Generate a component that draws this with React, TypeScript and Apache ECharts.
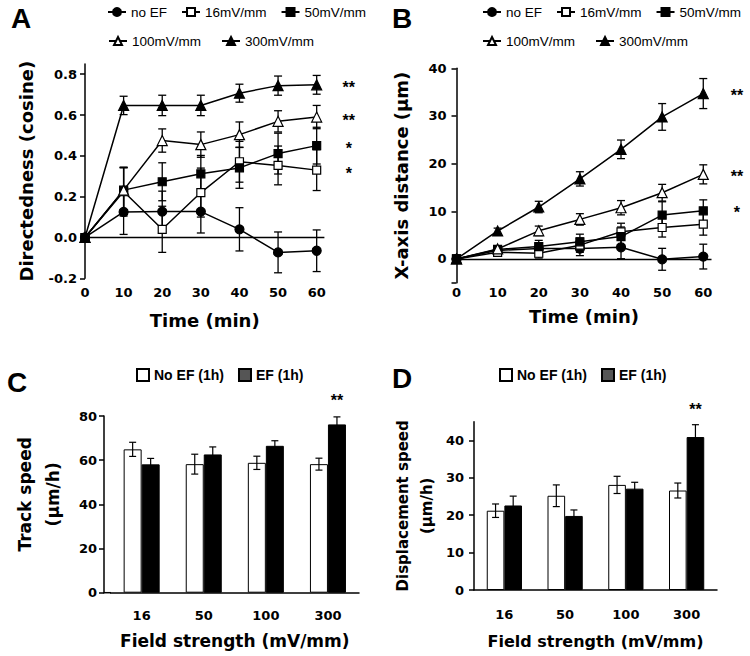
import React, { useEffect, useRef } from 'react';
import * as echarts from 'echarts';

// ---------- data ----------
const times = [0, 10, 20, 30, 40, 50, 60];
const seriesNames = ['no EF', '16mV/mm', '50mV/mm', '100mV/mm', '300mV/mm'];

// Panel A: directedness (cosine)
const dirNoEF = [0, 0.125, 0.127, 0.127, 0.04, -0.073, -0.065];
const dir16 = [0, 0.225, 0.04, 0.22, 0.371, 0.353, 0.33];
const dir50 = [0, 0.232, 0.273, 0.312, 0.341, 0.411, 0.45];
const dir100 = [0, 0.232, 0.475, 0.455, 0.504, 0.569, 0.59];
const dir300 = [0, 0.647, 0.647, 0.647, 0.707, 0.744, 0.748];
const dirNoEFErr = [0, 0.11, 0.1, 0.105, 0.106, 0.1, 0.102];
const dir16Err = [0, 0.12, 0.113, 0.12, 0.1, 0.095, 0.1];
const dir50Err = [0, 0.11, 0.093, 0.09, 0.1, 0.1, 0.09];
const dir100Err = [0, 0.11, 0.057, 0.062, 0.062, 0.052, 0.057];
const dir300Err = [0, 0.045, 0.05, 0.05, 0.044, 0.047, 0.046];
const dirSig = ['', '*', '*', '**', '**'];
const dirTicks = [-0.2, 0, 0.2, 0.4, 0.6, 0.8];

// Panel B: X-axis distance (um)
const distNoEF = [0, 1.8, 2.2, 2.2, 2.45, -0.07, 0.5];
const dist16 = [0, 1.4, 1.2, 2.9, 5.7, 6.6, 7.3];
const dist50 = [0, 2.0, 2.6, 3.6, 4.7, 9.2, 10.1];
const dist100 = [0, 2.1, 5.9, 8.3, 10.75, 13.9, 17.75];
const dist300 = [0, 5.87, 10.9, 16.8, 23.0, 29.8, 34.7];
const distNoEFErr = [0, 0.6, 1.0, 1.5, 2.4, 2.3, 2.6];
const dist16Err = [0, 0.6, 1.0, 1.5, 1.8, 2.0, 2.3];
const dist50Err = [0, 0.6, 1.3, 1.6, 2.0, 2.8, 2.3];
const dist100Err = [0, 0.6, 1.0, 1.2, 1.5, 1.75, 2.0];
const dist300Err = [0, 0.6, 1.2, 1.5, 1.95, 2.8, 3.15];
const distSig = ['', '', '*', '**', '**'];
const distTicks = [-5, 0, 10, 20, 30, 40];
const distLabels = [0, 10, 20, 30, 40];

// Panels C and D
const fieldStrengths = ['16', '50', '100', '300'];
const trackNoEF = [64.9, 58.2, 58.8, 58.2];
const trackEF = [58.1, 62.6, 66.5, 76.2];
const trackNoEFErr = [3.2, 4.5, 3.0, 2.7];
const trackEFErr = [2.7, 3.4, 2.3, 3.4];
const trackSig = ['', '', '', '**'];
const dispNoEF = [21.2, 25.2, 28.1, 26.6];
const dispEF = [22.6, 19.8, 27.1, 40.9];
const dispNoEFErr = [1.8, 2.9, 2.3, 2.0];
const dispEFErr = [2.5, 1.6, 1.7, 3.3];
const dispSig = ['', '', '', '**'];
const trackTicks = [0, 20, 40, 60, 80];
const dispTicks = [0, 10, 20, 30, 40];

// ---------- styling ----------
const DV = '"DejaVu Sans", sans-serif';
const LS = '"Liberation Sans", Arial, sans-serif';
const symbols = ['circle', 'rect', 'rect', 'triangle', 'triangle'];
const filled = [true, false, true, false, true];
const symbolSizes = [9, 8, 8, 10, 10];

const tickFont = { fontFamily: DV, fontWeight: 'bold' as const, fontSize: 13, color: '#000' };
const nameFont = (size: number) => ({
  fontFamily: DV, fontWeight: 'bold' as const, fontSize: size, color: '#000',
});
const richName = (size: number, lh: number, padLeft: number) => ({
  fontFamily: DV, fontWeight: 'bold' as const, fontSize: size, color: '#000',
  padding: [0, 0, 0, padLeft],
  rich: { a: { fontFamily: DV, fontWeight: 'bold' as const, fontSize: size, color: '#000', lineHeight: lh } },
});

const lineErrRender = (cap: number) => (params: any, api: any) => {
  const x = api.value(0);
  const lo = api.value(1);
  const hi = api.value(2);
  if (hi === lo) return null;
  const p1 = api.coord([x, hi]);
  const p2 = api.coord([x, lo]);
  const style = { stroke: '#000', lineWidth: 1.3 };
  return {
    type: 'group',
    children: [
      { type: 'line', shape: { x1: p1[0], y1: p1[1], x2: p2[0], y2: p2[1] }, style },
      { type: 'line', shape: { x1: p1[0] - cap, y1: p1[1], x2: p1[0] + cap, y2: p1[1] }, style },
      { type: 'line', shape: { x1: p2[0] - cap, y1: p2[1], x2: p2[0] + cap, y2: p2[1] }, style },
    ],
  };
};

const barErrRender = (side: number) => (params: any, api: any) => {
  const i = api.value(0);
  const p1 = api.coord([i, api.value(2)]);
  const p2 = api.coord([i, api.value(1)]);
  const band = api.size([1, 0])[0];
  const x = p1[0] + side * band * 0.145;
  const cap = 3.5;
  const style = { stroke: '#000', lineWidth: 1.2 };
  return {
    type: 'group',
    children: [
      { type: 'line', shape: { x1: x, y1: p1[1], x2: x, y2: p2[1] }, style },
      { type: 'line', shape: { x1: x - cap, y1: p1[1], x2: x + cap, y2: p1[1] }, style },
      { type: 'line', shape: { x1: x - cap, y1: p2[1], x2: x + cap, y2: p2[1] }, style },
    ],
  };
};

function linePanel(idx: number, values: number[][], errors: number[][], sigs: string[], sigDx: number, sigDy: number) {
  const out: any[] = [];
  values.forEach((vals, s) => {
    out.push({
      type: 'custom',
      xAxisIndex: idx,
      yAxisIndex: idx,
      z: 1,
      silent: true,
      renderItem: lineErrRender(4),
      data: times.map((t, i) => [t, vals[i] - errors[s][i], vals[i] + errors[s][i]]),
      encode: { x: 0, y: [1, 2] },
    });
  });
  values.forEach((vals, s) => {
    const size = symbolSizes[s];
    out.push({
      type: 'line',
      name: seriesNames[s],
      xAxisIndex: idx,
      yAxisIndex: idx,
      z: 3,
      symbol: symbols[s],
      symbolSize: size,
      showSymbol: true,
      showAllSymbol: true,
      lineStyle: { color: '#000', width: 1.5 },
      itemStyle: { color: filled[s] ? '#000' : '#fff', borderColor: '#000', borderWidth: 1.2 },
      data: times.map((t, i) => {
        if (i === times.length - 1 && sigs[s]) {
          return {
            value: [t, vals[i]],
            label: {
              show: true,
              formatter: sigs[s],
              position: 'right',
              distance: 0,
              offset: [sigDx - size / 2, sigDy],
              align: 'center',
              verticalAlign: 'middle',
              fontFamily: LS,
              fontWeight: 'bold',
              fontSize: 16,
              color: '#000',
            },
          };
        }
        return [t, vals[i]];
      }),
      markLine:
        s === 0
          ? {
              silent: true,
              symbol: ['none', 'none'],
              label: { show: false },
              lineStyle: { color: '#000', width: 1.4, type: 'solid' },
              data: [{ yAxis: 0 }],
            }
          : undefined,
    });
  });
  return out;
}

function barPanel(idx: number, noEF: number[], ef: number[], noEFErr: number[], efErr: number[], sig: string[], sigDist: number) {
  return [
    {
      type: 'bar',
      name: 'No EF (1h)',
      xAxisIndex: idx,
      yAxisIndex: idx,
      barWidth: '29%',
      barGap: '0%',
      z: 2,
      itemStyle: { color: '#fff', borderColor: '#000', borderWidth: 1 },
      data: noEF,
    },
    {
      type: 'bar',
      name: 'EF (1h)',
      xAxisIndex: idx,
      yAxisIndex: idx,
      barWidth: '29%',
      barGap: '0%',
      z: 2,
      itemStyle: { color: '#000', borderColor: '#000', borderWidth: 1 },
      data: ef.map((v, i) =>
        sig[i]
          ? {
              value: v,
              label: {
                show: true,
                position: 'top',
                distance: sigDist,
                formatter: sig[i],
                fontFamily: LS,
                fontWeight: 'bold',
                fontSize: 16,
                color: '#000',
              },
            }
          : v
      ),
    },
    {
      type: 'custom',
      xAxisIndex: idx,
      yAxisIndex: idx,
      z: 4,
      silent: true,
      renderItem: barErrRender(-1),
      data: noEF.map((v, i) => [i, v - noEFErr[i], v + noEFErr[i]]),
      encode: { x: 0, y: [1, 2] },
    },
    {
      type: 'custom',
      xAxisIndex: idx,
      yAxisIndex: idx,
      z: 4,
      silent: true,
      renderItem: barErrRender(1),
      data: ef.map((v, i) => [i, v - efErr[i], v + efErr[i]]),
      encode: { x: 0, y: [1, 2] },
    },
  ];
}

const axisLineStyle = { show: true, onZero: false, lineStyle: { color: '#000', width: 1.5 } };
const tickStyle = { color: '#000', width: 1.5 };

function buildOption() {
  const lineLegend = (left: number, top: number, names: string[], gap: number) => ({
    left,
    top,
    width: 320,
    padding: 0,
    selectedMode: false,
    itemWidth: 18,
    itemHeight: 10,
    itemGap: gap,
    data: names,
    textStyle: { fontFamily: LS, fontSize: 13.5, color: '#000' },
  });
  const barLegend = (left: number) => ({
    left,
    top: 368,
    width: 300,
    padding: 0,
    selectedMode: false,
    icon: 'rect',
    itemWidth: 12,
    itemHeight: 12,
    itemGap: 14,
    data: [{ name: 'No EF (1h)' }, { name: 'EF (1h)', itemStyle: { color: '#555' } }],
    textStyle: { fontFamily: LS, fontWeight: 'bold', fontSize: 14, color: '#000' },
  });
  const letter = (text: string, x: number, y: number) => ({
    type: 'text',
    x,
    y,
    style: { text, font: 'bold 28px "Liberation Sans", Arial, sans-serif', fill: '#000', align: 'center', verticalAlign: 'middle' },
  });

  return {
    animation: false,
    backgroundColor: '#fff',
    textStyle: { fontFamily: LS },
    grid: [
      { left: 85, top: 64, width: 239.4, height: 214.3 },
      { left: 456.5, top: 68.3, width: 255, height: 214.5 },
      { left: 110.6, top: 416, width: 248.4, height: 176.7 },
      { left: 474, top: 421.7, width: 243, height: 168.3 },
    ],
    xAxis: [
      {
        gridIndex: 0, type: 'value', min: 0, max: 62,
        axisLine: { show: false, onZero: false }, axisTick: { show: false }, splitLine: { show: false },
        axisLabel: { ...tickFont, customValues: times, margin: 8 },
        name: 'Time (min)', nameLocation: 'middle', nameGap: 33, nameTextStyle: nameFont(18),
      },
      {
        gridIndex: 1, type: 'value', min: 0, max: 62,
        axisLine: { show: false, onZero: false }, axisTick: { show: false }, splitLine: { show: false },
        axisLabel: { ...tickFont, customValues: times, margin: 3 },
        name: 'Time (min)', nameLocation: 'middle', nameGap: 25, nameTextStyle: nameFont(18),
      },
      {
        gridIndex: 2, type: 'category', data: fieldStrengths,
        axisLine: axisLineStyle, axisTick: { show: false },
        axisLabel: { ...tickFont, margin: 16 },
        name: 'Field strength (mV/mm)', nameLocation: 'middle', nameGap: 40, nameTextStyle: nameFont(17),
      },
      {
        gridIndex: 3, type: 'category', data: fieldStrengths,
        axisLine: axisLineStyle, axisTick: { show: false },
        axisLabel: { ...tickFont, margin: 18 },
        name: 'Field strength (mV/mm)', nameLocation: 'middle', nameGap: 43, nameTextStyle: nameFont(16),
      },
    ],
    yAxis: [
      {
        gridIndex: 0, type: 'value', min: -0.2, max: 0.85,
        axisLine: axisLineStyle,
        axisTick: { show: true, length: 5, customValues: dirTicks, lineStyle: tickStyle },
        axisLabel: { ...tickFont, customValues: dirTicks, margin: 8, formatter: (v: number) => v.toFixed(1) },
        splitLine: { show: false },
        name: 'Directedness (cosine)', nameLocation: 'middle', nameRotate: 90, nameGap: 50, nameTextStyle: nameFont(18),
      },
      {
        gridIndex: 1, type: 'value', min: -5, max: 40,
        axisLine: axisLineStyle,
        axisTick: { show: true, length: 5, customValues: distTicks, lineStyle: tickStyle },
        axisLabel: { ...tickFont, customValues: distLabels, margin: 10 },
        splitLine: { show: false },
        name: 'X-axis distance (µm)', nameLocation: 'middle', nameRotate: 90, nameGap: 46, nameTextStyle: nameFont(18),
      },
      {
        gridIndex: 2, type: 'value', min: 0, max: 80, offset: 6.6,
        axisLine: axisLineStyle,
        axisTick: { show: true, length: 5, customValues: trackTicks, lineStyle: tickStyle },
        axisLabel: { ...tickFont, customValues: trackTicks, margin: 7 },
        splitLine: { show: false },
        name: '{a|Track speed}\n{a|(µm/h)}', nameLocation: 'middle', nameRotate: 90, nameGap: 37,
        nameTextStyle: richName(17, 28, 20),
      },
      {
        gridIndex: 3, type: 'value', min: 0, max: 45,
        axisLine: axisLineStyle,
        axisTick: { show: true, length: 5, customValues: dispTicks, lineStyle: tickStyle },
        axisLabel: { ...tickFont, customValues: dispTicks, margin: 10 },
        splitLine: { show: false },
        name: '{a|Displacement speed}\n{a|(µm/h)}', nameLocation: 'middle', nameRotate: 90, nameGap: 35,
        nameTextStyle: richName(15, 24, 0),
      },
    ],
    legend: [
      lineLegend(107, 5, seriesNames.slice(0, 3), 14),
      lineLegend(108, 34, seriesNames.slice(3), 20),
      lineLegend(482, 5, seriesNames.slice(0, 3), 14),
      lineLegend(482, 34, seriesNames.slice(3), 20),
      barLegend(136),
      barLegend(499),
    ],
    graphic: [
      letter('A', 21, 18),
      letter('B', 402, 18),
      letter('C', 17, 382),
      letter('D', 402, 378),
      // short stub joining the x-axis line of panel C to its offset y-axis
      { type: 'line', shape: { x1: 103.5, y1: 592.7, x2: 111, y2: 592.7 }, style: { stroke: '#000', lineWidth: 1.5 } },
    ],
    series: [
      ...linePanel(
        0,
        [dirNoEF, dir16, dir50, dir100, dir300],
        [dirNoEFErr, dir16Err, dir50Err, dir100Err, dir300Err],
        dirSig, 31.5, 3
      ),
      ...linePanel(
        1,
        [distNoEF, dist16, dist50, dist100, dist300],
        [distNoEFErr, dist16Err, dist50Err, dist100Err, dist300Err],
        distSig, 33, 2
      ),
      ...barPanel(2, trackNoEF, trackEF, trackNoEFErr, trackEFErr, trackSig, 16),
      ...barPanel(3, dispNoEF, dispEF, dispNoEFErr, dispEFErr, dispSig, 20),
    ],
  };
}

export default function App() {
  const ref = useRef<HTMLDivElement>(null);
  useEffect(() => {
    if (!ref.current) return;
    const chart = echarts.init(ref.current, null, { renderer: 'svg' });
    chart.setOption(buildOption() as any);
    return () => chart.dispose();
  }, []);
  return (
    <div
      ref={ref}
      style={{ position: 'absolute', left: 0, top: 0, width: 750, height: 656, background: '#fff' }}
    />
  );
}
